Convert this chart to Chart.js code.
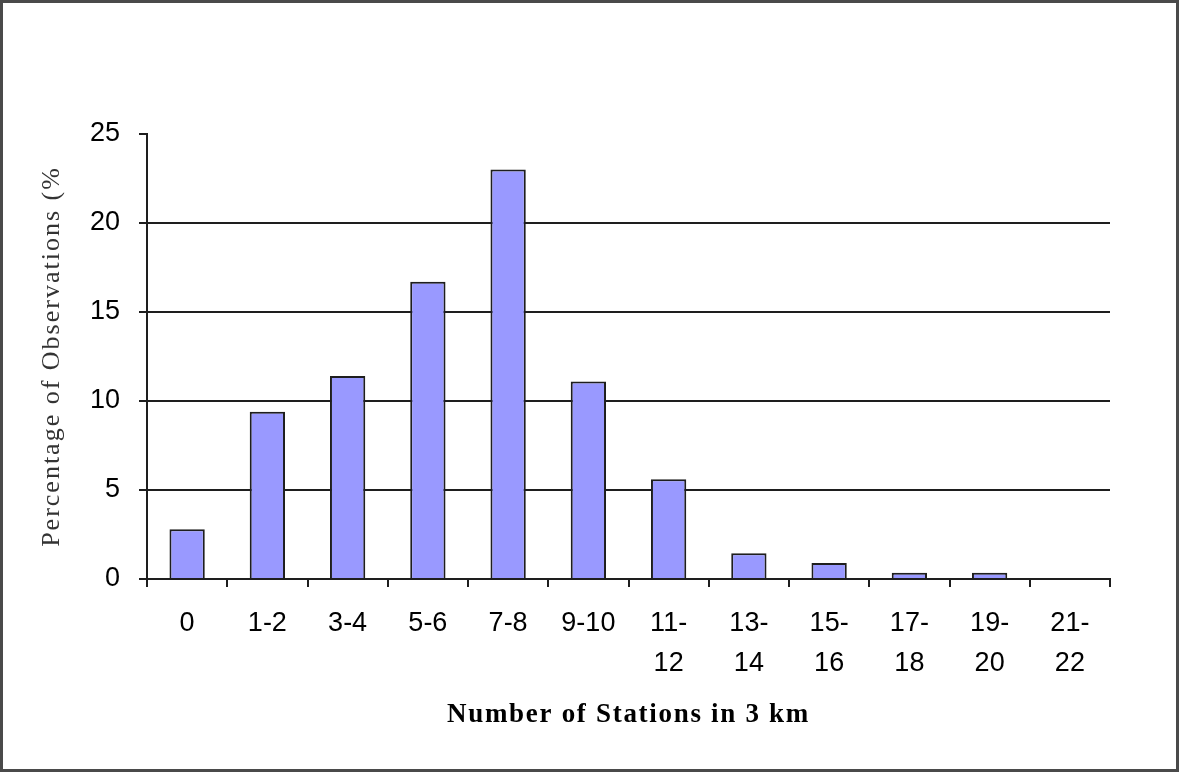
<!DOCTYPE html>
<html>
<head>
<meta charset="utf-8">
<script src="https://cdn.jsdelivr.net/npm/chart.js@4.4.1/dist/chart.umd.min.js"></script>
<style>
  html, body { margin: 0; padding: 0; background: #fff; }
  #wrap { position: relative; width: 1179px; height: 772px; }
  #frame { position: absolute; left: 0; top: 0; width: 1179px; height: 772px;
           box-sizing: border-box; border: 3px solid #4a4a4a; pointer-events: none; }
  canvas { position: absolute; left: 0; top: 0; }
</style>
</head>
<body>
<div id="wrap">
  <canvas id="c" width="1179" height="772"></canvas>
  <div id="frame"></div>
</div>
<script>
// Station-count bins (multi-line labels where the range wraps)
const categories = [
  '0', '1-2', '3-4', '5-6', '7-8', '9-10',
  ['11-', '12'], ['13-', '14'], ['15-', '16'], ['17-', '18'], ['19-', '20'], ['21-', '22']
];
// Share of observations in each bin (%)
const percentages = [2.8, 9.4, 11.4, 16.7, 23.0, 11.1, 5.6, 1.45, 0.9, 0.35, 0.35, 0];
const yTicks = [0, 5, 10, 15, 20, 25];

const xTitle = 'Number of Stations in 3 km';
const yTitle = 'Percentage of Observations (%';

const LINE = '#1e1e1e';

// Give the axis titles the loose letter spacing of the serif captions
const titleSpacing = {
  id: 'titleSpacing',
  beforeDraw(chart) {
    const spacing = { x: '1.7px', y: '2px' };
    for (const id of ['x', 'y']) {
      const s = chart.scales[id];
      if (!s || s._spacedTitle) continue;
      const orig = s.drawTitle.bind(s);
      s.drawTitle = function () {
        const ctx = this.ctx;
        const prev = ctx.letterSpacing;
        ctx.letterSpacing = spacing[id];
        orig();
        ctx.letterSpacing = prev || '0px';
      };
      s._spacedTitle = true;
    }
  }
};

new Chart(document.getElementById('c'), {
  type: 'bar',
  data: {
    labels: categories,
    datasets: [{
      data: percentages,
      backgroundColor: '#9999FF',
      borderColor: LINE,
      borderWidth: 2,
      barPercentage: 0.44,
      categoryPercentage: 1.0
    }]
  },
  options: {
    responsive: false,
    animation: false,
    devicePixelRatio: 1,
    layout: { padding: { left: 0, right: 69, top: 134, bottom: 0 } },
    plugins: { legend: { display: false }, tooltip: { enabled: false } },
    scales: {
      x: {
        offset: true,
        grid: {
          offset: true,
          drawOnChartArea: false,
          drawTicks: true,
          tickLength: 8,
          color: LINE,
          lineWidth: 2
        },
        border: { display: true, color: LINE, width: 2 },
        ticks: {
          autoSkip: false,
          maxRotation: 0,
          minRotation: 0,
          padding: 17,
          color: '#000',
          font: { family: '"Liberation Sans", Arial, sans-serif', size: 27, lineHeight: '40px' }
        },
        title: {
          display: true,
          text: xTitle,
          color: '#000',
          padding: { top: 0, bottom: 41 },
          font: { family: '"Liberation Serif", "Times New Roman", serif', size: 27, weight: 'bold', lineHeight: 1.2 }
        },
        afterFit(scale) { scale.height = 193; }
      },
      y: {
        min: 0,
        max: 25,
        afterBuildTicks(scale) { scale.ticks = yTicks.map(v => ({ value: v })); },
        grid: {
          drawTicks: true,
          tickLength: 8,
          color: ctx => (ctx.tick && ctx.tick.value === 25 ? 'rgba(0,0,0,0)' : LINE),
          tickColor: LINE,
          lineWidth: 2
        },
        border: { display: true, color: LINE, width: 2 },
        ticks: {
          padding: 19,
          color: '#000',
          font: { family: '"Liberation Sans", Arial, sans-serif', size: 27 }
        },
        title: {
          display: true,
          text: yTitle,
          color: '#333',
          padding: { top: 37, bottom: 0 },
          font: { family: '"Liberation Serif", "Times New Roman", serif', size: 26, lineHeight: 1.2 }
        },
        afterFit(scale) { scale.width = 147; }
      }
    }
  },
  plugins: [titleSpacing]
});
</script>
</body>
</html>
